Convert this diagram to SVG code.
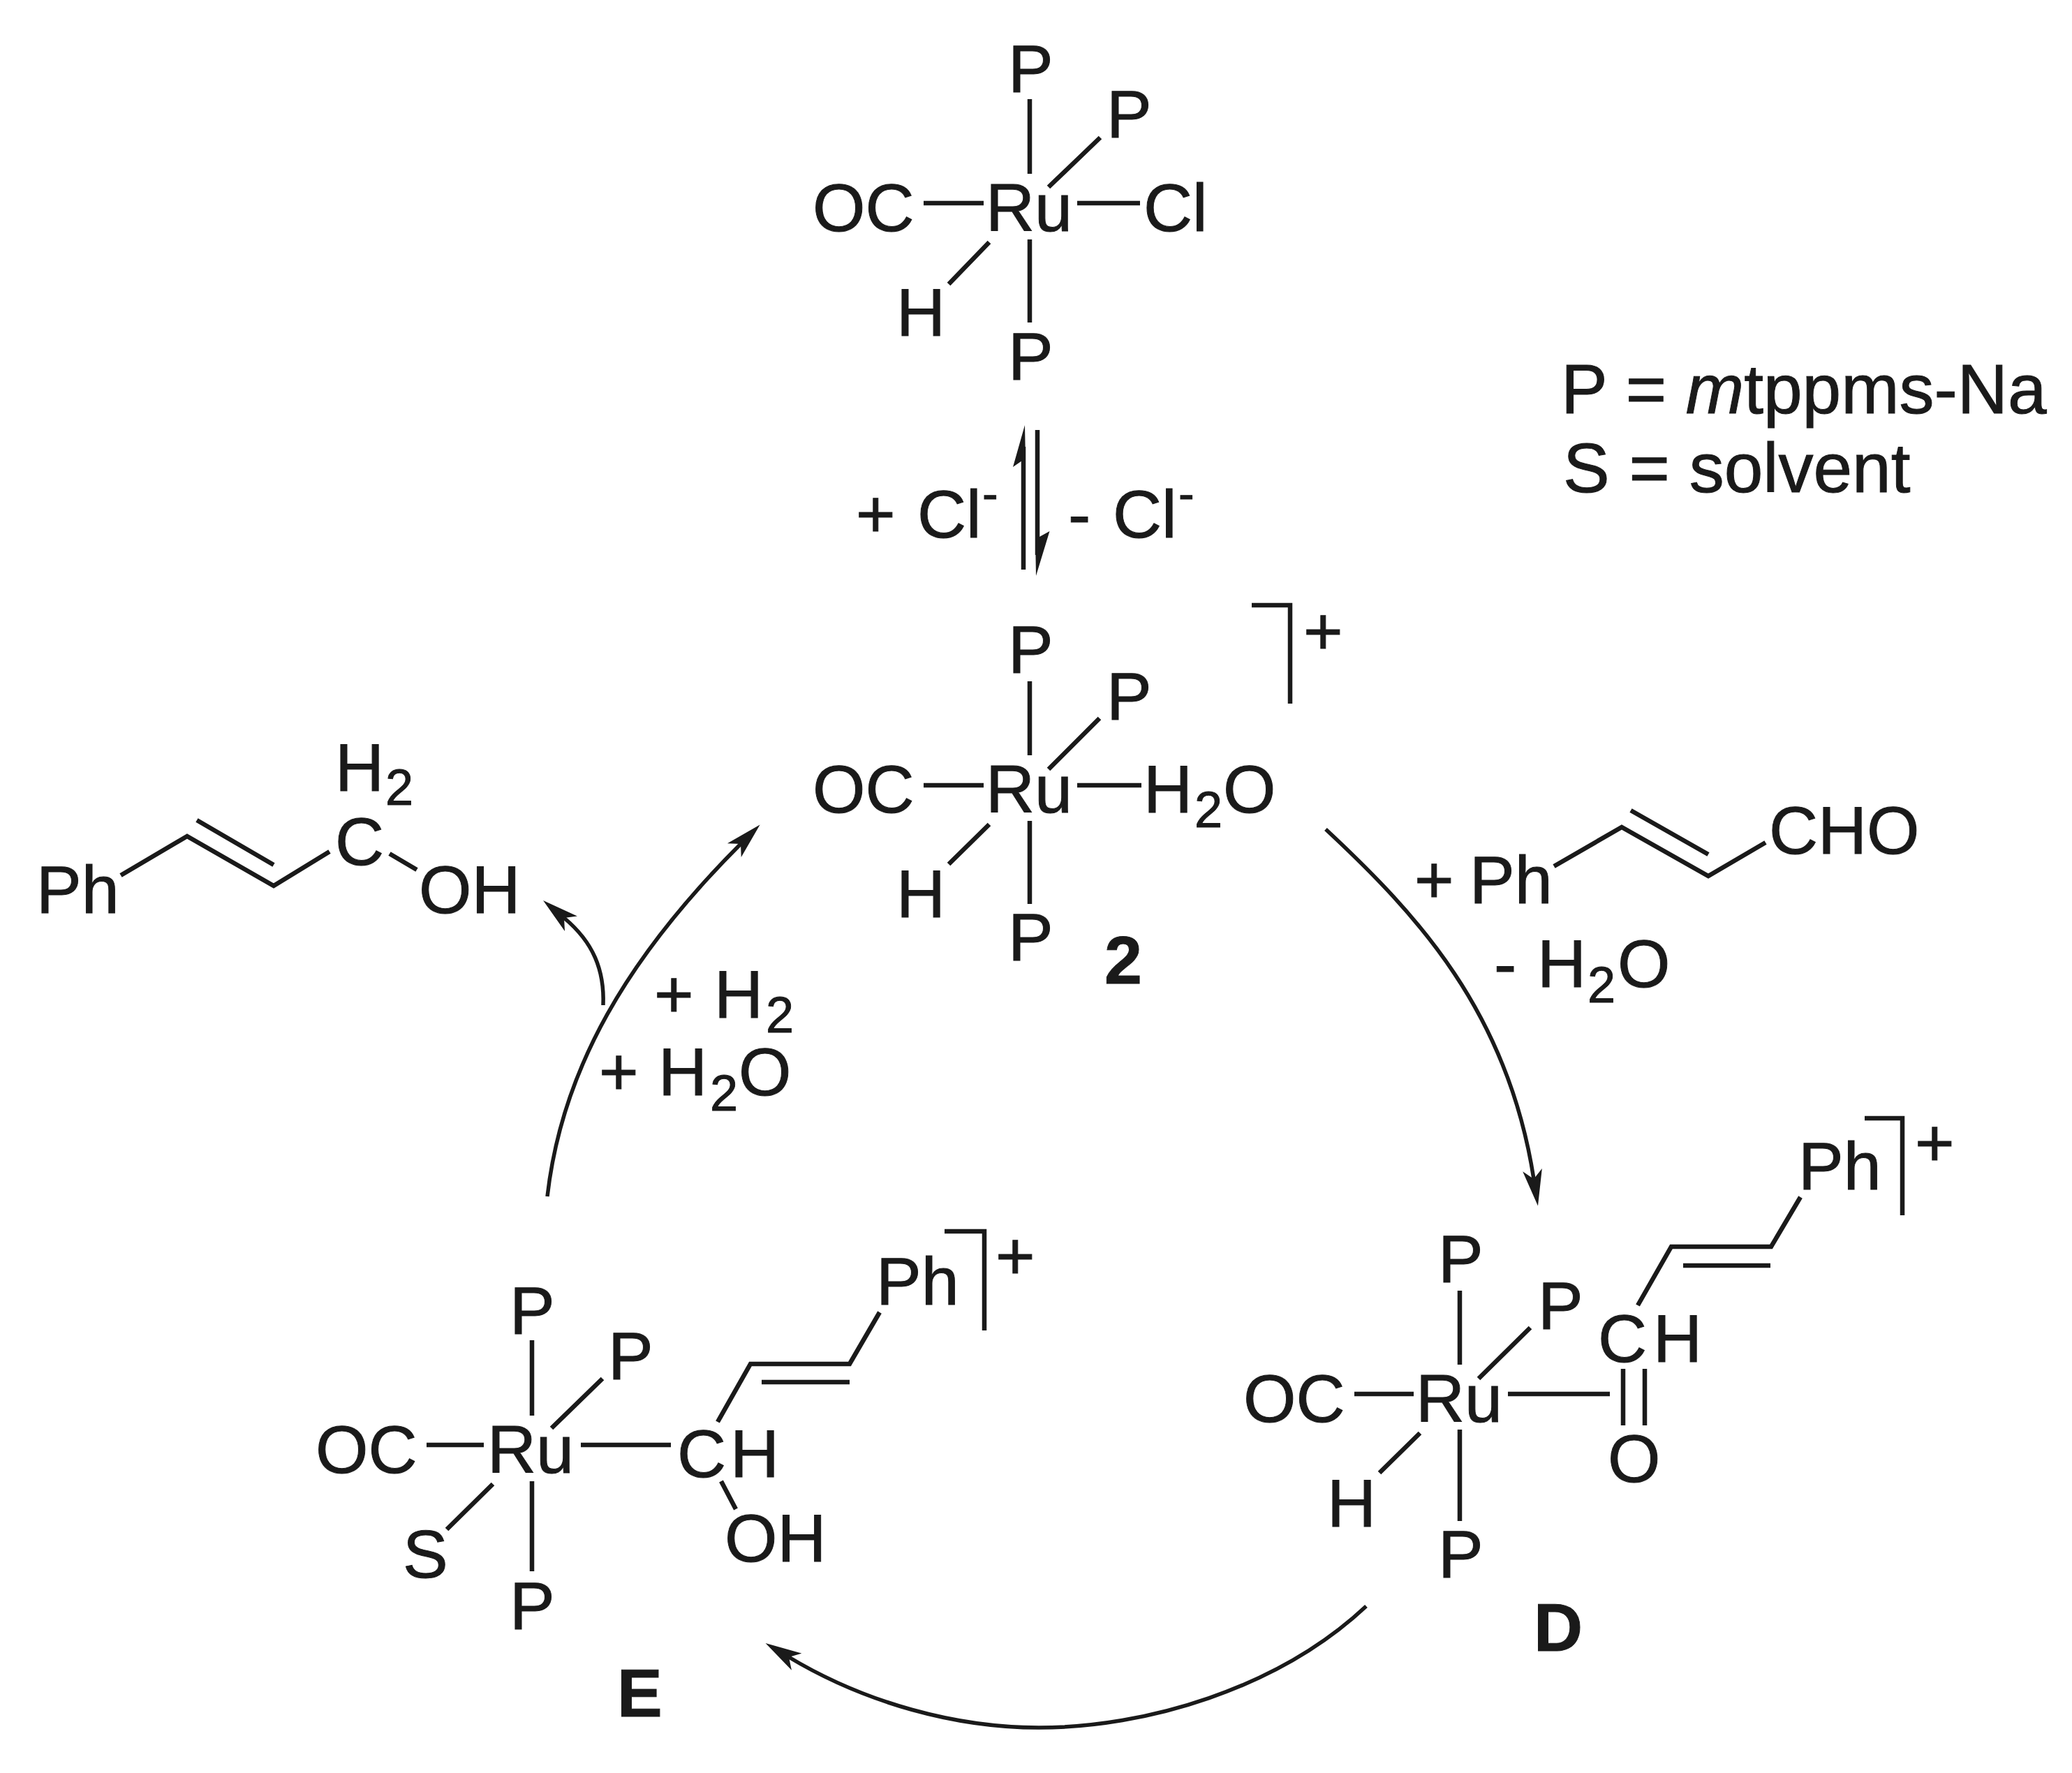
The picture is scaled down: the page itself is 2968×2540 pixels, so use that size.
<svg xmlns="http://www.w3.org/2000/svg" width="2968" height="2540" viewBox="0 0 2968 2540">
<style>
text{font-family:"Liberation Sans",Arial,sans-serif;font-size:97px;fill:#1a1a1a;stroke:#1a1a1a;stroke-width:1}
.s{font-size:72px}
.b{font-weight:bold}
.l{font-size:100px}
.sup{font-size:68px}
.bond{fill:none;stroke:#1a1a1a;stroke-width:6.5;stroke-linejoin:miter}
.arc{fill:none;stroke:#1a1a1a;stroke-width:5.5}
.head{fill:#1a1a1a}
</style>
<defs>
<marker id="ah" markerUnits="userSpaceOnUse" markerWidth="52" markerHeight="30" viewBox="0 0 52 30" refX="13" refY="15" orient="auto">
<path class="head" d="M0 1L52 15L0 29L13 15Z"/>
</marker>
</defs>
<rect width="2968" height="2540" fill="#fff"/>
<g id="connectors">
<path class="arc" marker-end="url(#ah)" d="M784 1714C805 1530 900 1370 1061 1209"/>
<path class="arc" marker-end="url(#ah)" d="M864 1440C866 1390 850 1350 808 1315"/>
<path class="arc" marker-end="url(#ah)" d="M1899 1188C2030 1310 2160 1450 2197 1689"/>
<path class="arc" marker-end="url(#ah)" d="M1957 2301C1830 2420 1640 2475 1488 2475C1370 2475 1240 2440 1130 2374"/>
<g id="equilibrium">
<path class="bond" d="M1466 640V816M1486 616V795"/>
<polygon class="head" points="1468,609 1451,669 1464,660 1469,660"/>
<polygon class="head" points="1484,825 1503.5,761 1489,769 1483,769"/>
</g>
</g>
<g id="node-precursor">
<path class="bond" d="M1475 142V249M1576 197L1502 268M1323 291H1409M1543 291H1633M1417 347L1359 407M1475 343V462"/>
<text x="1444" y="132">P</text>
<text x="1585" y="197">P</text>
<text x="1164" y="331">OC</text>
<text x="1412" y="331">Ru</text>
<text x="1638" y="331">Cl</text>
<text x="1284" y="481">H</text>
<text x="1444" y="544">P</text>
</g>
<g id="label-plus-cl"><text x="1226" y="770">+<tspan x="1314">Cl</tspan><tspan class="sup" x="1407" y="731">-</tspan></text></g>
<g id="label-minus-cl"><text x="1530" y="770">-<tspan x="1594">Cl</tspan><tspan class="sup" x="1688" y="731">-</tspan></text></g>
<g id="legend">
<text class="l" x="2236" y="592">P = <tspan font-style="italic">m</tspan>tppms-Na</text>
<text class="l" x="2239" y="705">S = solvent</text>
</g>
<g id="node-2">
<path class="bond" d="M1793 867H1848V1008M1475 976V1082M1575 1029L1502 1102M1323 1125H1409M1543 1125H1635M1417 1181L1359 1238M1475 1176V1295"/>
<text x="1867" y="938">+</text>
<text x="1444" y="964">P</text>
<text x="1585" y="1031">P</text>
<text x="1164" y="1164">OC</text>
<text x="1412" y="1164">Ru</text>
<text x="1638" y="1164">H<tspan class="s" x="1711" y="1185">2</tspan><tspan x="1752" y="1164">O</tspan></text>
<text x="1284" y="1314">H</text>
<text x="1444" y="1376">P</text>
<text class="b" x="1582" y="1409">2</text>
</g>
<g id="node-aldehyde">
<path class="bond" d="M2226 1241L2323 1185L2447 1255L2529 1207M2336 1161L2447 1224"/>
<text x="2026" y="1294">+<tspan x="2105">Ph</tspan></text>
<text x="2534" y="1223">CHO</text>
</g>
<g id="label-minus-h2o"><text x="2140" y="1414">-<tspan x="2202">H</tspan><tspan class="s" x="2274" y="1436">2</tspan><tspan x="2317" y="1414">O</tspan></text></g>
<g id="node-alcohol">
<path class="bond" d="M173 1254L268 1198L392 1269L472 1220M282 1175L392 1239M558 1223L597 1246"/>
<text x="52" y="1308">Ph</text>
<text x="480" y="1133">H<tspan class="s" x="552" y="1153">2</tspan></text>
<text x="480" y="1239">C</text>
<text x="600" y="1308">OH</text>
</g>
<g id="label-plus-h2"><text x="937" y="1458">+<tspan x="1023">H</tspan><tspan class="s" x="1097" y="1479">2</tspan></text></g>
<g id="label-plus-h2o"><text x="858" y="1569">+<tspan x="943">H</tspan><tspan class="s" x="1017" y="1591">2</tspan><tspan x="1058" y="1569">O</tspan></text></g>
<g id="node-D">
<path class="bond" d="M2671 1602H2725V1741M2091 1849V1955M2192 1902L2118 1975M1940 1997H2025M2160 1997H2306M2034 2053L1976 2110M2091 2048V2179M2325 1961V2042M2356 1961V2042M2346 1870L2394 1786H2537L2579 1715M2411 1813H2536"/>
<text x="2743" y="1671">+</text>
<text x="2060" y="1837">P</text>
<text x="2203" y="1904">P</text>
<text x="1781" y="2037">OC</text>
<text x="2028" y="2037">Ru</text>
<text x="2289" y="1951">C<tspan x="2368">H</tspan></text>
<text x="2303" y="2123">O</text>
<text x="1901" y="2187">H</text>
<text x="2060" y="2260">P</text>
<text x="2576" y="1704">Ph</text>
<text class="b" x="2197" y="2365">D</text>
</g>
<g id="node-E">
<path class="bond" d="M1353 1764H1410V1906M762 1920V2028M863 1975L790 2046M611 2070H693M832 2070H961M706 2126L640 2191M762 2122V2251M1033 2122L1054 2162M1028 2037L1075 1954H1217L1260 1880M1091 1980H1217"/>
<text x="1426" y="1833">+</text>
<text x="730" y="1911">P</text>
<text x="871" y="1976">P</text>
<text x="452" y="2110">OC</text>
<text x="698" y="2110">Ru</text>
<text x="970" y="2116">C<tspan x="1046">H</tspan></text>
<text x="577" y="2260">S</text>
<text x="730" y="2334">P</text>
<text x="1038" y="2237">OH</text>
<text x="1255" y="1869">Ph</text>
<text class="b" x="884" y="2459">E</text>
</g>
</svg>
